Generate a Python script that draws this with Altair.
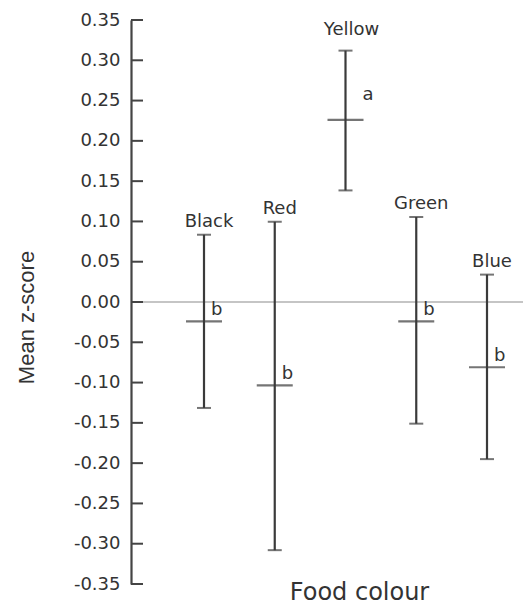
import altair as alt
import pandas as pd

colours = ["Black", "Red", "Yellow", "Green", "Blue"]
means = [-0.024, -0.1035, 0.226, -0.024, -0.081]
lower = [-0.1315, -0.308, 0.1385, -0.151, -0.195]
upper = [0.0835, 0.0996, 0.312, 0.1055, 0.034]
letters = ["b", "b", "a", "b", "b"]
y_ticks = [-0.35, -0.30, -0.25, -0.20, -0.15, -0.10, -0.05, 0.00,
           0.05, 0.10, 0.15, 0.20, 0.25, 0.30, 0.35]

df = pd.DataFrame({"colour": colours, "mean": means, "lo": lower,
                   "hi": upper, "letter": letters})

INK = "#3a3a3a"
TXT = "#333333"
FONT = "DejaVu Sans"
W, H = 392, 564

yscale = alt.Scale(domain=[-0.35, 0.35], nice=False, zero=False)
yaxis = alt.Axis(title="Mean z-score", values=y_ticks,
                 labelExpr="replace(format(datum.value, '.2f'), '\u2212', '-')",
                 ticks=False, tickSize=0, labelPadding=11,
                 domainColor="#444444", domainWidth=2.2, grid=False,
                 labelFont=FONT, labelFontSize=18, labelColor=TXT,
                 titleFont="Liberation Sans", titleFontSize=22,
                 titleFontWeight="normal", titleColor=TXT,
                 titleAngle=-90, titleX=-105, titleY=297,
                 titleAlign="center", titleBaseline="middle")
xenc = alt.X(
    "colour:N", sort=colours,
    scale=alt.Scale(type="point", range=[73, 356], padding=0),
    axis=alt.Axis(title="Food colour", labels=False, ticks=False, domain=False,
                  grid=False, titleFont=FONT, titleFontSize=24,
                  titleFontWeight="normal", titleColor=TXT,
                  titleBaseline="alphabetic", titlePadding=15, titleX=228,
                  titleAlign="center"),
)

base = alt.Chart(df).encode(x=xenc)

zero = alt.Chart(pd.DataFrame({"z": [0.0]})).mark_rule(
    color="#8c8c8c", strokeWidth=1.2
).encode(y=alt.Y("z:Q", scale=yscale, axis=yaxis), x=alt.value(0), x2=alt.value(W))

ticks = alt.Chart(pd.DataFrame({"t": y_ticks})).mark_rule(
    color="#444444", strokeWidth=2
).encode(y=alt.Y("t:Q", scale=yscale), x=alt.value(0), x2=alt.value(12))

bars = base.mark_rule(color=INK, strokeWidth=2.2).encode(
    y=alt.Y("lo:Q", scale=yscale), y2="hi:Q")

cap_lo = base.mark_tick(color=INK, size=14, thickness=2).encode(
    y=alt.Y("lo:Q", scale=yscale))
cap_hi = base.mark_tick(color=INK, size=14, thickness=2).encode(
    y=alt.Y("hi:Q", scale=yscale))
mean_tick = base.mark_tick(color=INK, size=36, thickness=2.2).encode(
    y=alt.Y("mean:Q", scale=yscale))

name_lbl = base.transform_filter("datum.colour != 'Yellow'").mark_text(
    font=FONT, fontSize=18, color=TXT, baseline="alphabetic", dx=5, dy=-8
).encode(y=alt.Y("hi:Q", scale=yscale), text="colour:N")
name_lbl_y = base.transform_filter("datum.colour == 'Yellow'").mark_text(
    font=FONT, fontSize=18, color=TXT, baseline="alphabetic", dx=6, dy=-16
).encode(y=alt.Y("hi:Q", scale=yscale), text="colour:N")

let_b = base.transform_filter("datum.letter == 'b'").mark_text(
    font=FONT, fontSize=18, color=TXT, baseline="alphabetic", align="left",
    dx=7, dy=-6
).encode(y=alt.Y("mean:Q", scale=yscale), text="letter:N")
let_a = base.transform_filter("datum.letter == 'a'").mark_text(
    font=FONT, fontSize=18, color=TXT, baseline="alphabetic", align="left",
    dx=17, dy=-20
).encode(y=alt.Y("mean:Q", scale=yscale), text="letter:N")

chart = alt.layer(
    zero, ticks, bars, cap_lo, cap_hi, mean_tick, name_lbl, name_lbl_y, let_b, let_a
).properties(
    width=W, height=H,
    padding={"left": 123, "top": 12, "right": 0, "bottom": 23},
    autosize=alt.AutoSizeParams(type="none"),
).configure_view(stroke=None).configure_axis(grid=False)

chart.save("out.html", embed_options={"renderer": "svg", "actions": False})
